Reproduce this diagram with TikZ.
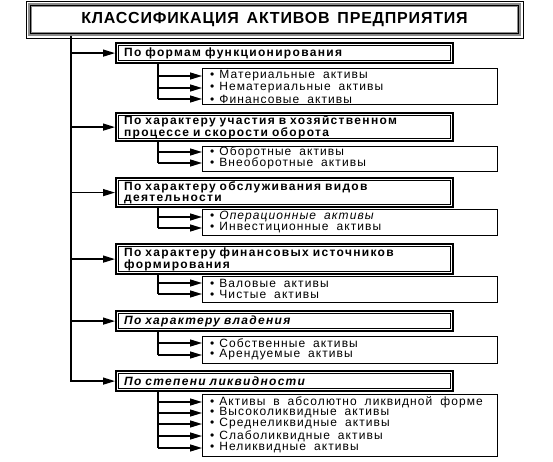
\documentclass[tikz,border=0pt]{standalone}
\usepackage{fontspec}
\setmainfont{Liberation Sans}
\newfontfamily\catfont[LetterSpace=11,WordSpace=1.9]{Liberation Sans}
\newfontfamily\itemfontfam[LetterSpace=9,WordSpace=1.8]{Liberation Sans}
\newfontfamily\titlefont[LetterSpace=5,WordSpace=1.5]{Liberation Sans}
\usetikzlibrary{arrows.meta}
\newcommand\catframe[1]{\draw[line width=0.6pt] ([xshift=3.5pt,yshift=-3.5pt]#1.north west) rectangle ([xshift=-3.5pt,yshift=3.5pt]#1.south east);}
\tikzset{
  titlebox/.style={draw=black!45, line width=4pt, minimum width=489pt, minimum height=29pt, inner sep=0pt,
    font=\titlefont\bfseries\fontsize{16}{18}\selectfont},
  catbox/.style={draw, line width=2.2pt, anchor=north west, text width=321pt, inner xsep=8pt, inner ysep=0pt,
    align=left, font=\catfont\bfseries\fontsize{12}{10.5}\selectfont},
  subbox/.style={draw, line width=1pt, anchor=north west, minimum width=295pt, inner sep=0pt},
  itemtxt/.style={anchor=west, inner sep=0pt, font=\itemfontfam\fontsize{12}{12}\selectfont},
  conn/.style={line width=1.3pt},
  arr/.style={line width=1.3pt, -{Triangle[length=12pt,width=7pt]}}
}
\begin{document}
\begin{tikzpicture}[x=1pt,y=-1pt]
\useasboundingbox (0,0) rectangle (553,462);
% title
\node[titlebox] (title) at (274.5,19.5) {КЛАССИФИКАЦИЯ АКТИВОВ ПРЕДПРИЯТИЯ};
\draw[line width=0.6pt] ([xshift=-2pt,yshift=2pt]title.north west) rectangle ([xshift=2pt,yshift=-2pt]title.south east);
\draw[line width=0.8pt] ([xshift=2.5pt,yshift=-2.5pt]title.north west) rectangle ([xshift=-2.5pt,yshift=2.5pt]title.south east);
% category boxes
\node[catbox, minimum height=20pt] (c1) at (115,42) {По формам функционирования};
\node[catbox, minimum height=28pt] (c2) at (115,112) {По характеру участия в хозяйственном\\процессе и скорости оборота};
\node[catbox, minimum height=29pt] (c3) at (115,177) {По характеру обслуживания видов\\деятельности};
\node[catbox, minimum height=30pt] (c4) at (115,243) {По характеру финансовых источников\\формирования};
\node[catbox, minimum height=20pt] (c5) at (115,310) {\itshape По характеру владения};
\node[catbox, minimum height=20pt] (c6) at (115,370) {\itshape По степени ликвидности};
\foreach \c in {c1,c2,c3,c4,c5,c6} {\catframe{\c}}
% sub boxes
\node[subbox, minimum height=36pt] (s1) at (202,68) {};
\node[subbox, minimum height=25pt] (s2) at (202,146) {};
\node[subbox, minimum height=26pt] (s3) at (202,209) {};
\node[subbox, minimum height=26pt] (s4) at (202,276) {};
\node[subbox, minimum height=27pt] (s5) at (202,336) {};
\node[subbox, minimum height=62pt] (s6) at (202,394) {};
% items
\node[itemtxt] (i11) at (210,76) {•\hspace{5pt}Материальные активы};
\node[itemtxt] (i12) at (210,88) {•\hspace{5pt}Нематериальные активы};
\node[itemtxt] (i13) at (210,99) {•\hspace{5pt}Финансовые активы};
\node[itemtxt] (i21) at (210,152) {•\hspace{5pt}Оборотные активы};
\node[itemtxt] (i22) at (210,163) {•\hspace{5pt}Внеоборотные активы};
\node[itemtxt] (i31) at (210,217) {•\hspace{5pt}\itshape Операционные активы};
\node[itemtxt] (i32) at (210,228) {•\hspace{5pt}Инвестиционные активы};
\node[itemtxt] (i41) at (210,283) {•\hspace{5pt}Валовые активы};
\node[itemtxt] (i42) at (210,294) {•\hspace{5pt}Чистые активы};
\node[itemtxt] (i51) at (210,343) {•\hspace{5pt}Собственные активы};
\node[itemtxt] (i52) at (210,355) {•\hspace{5pt}Арендуемые активы};
\node[itemtxt] (i61) at (210,402) {•\hspace{5pt}Активы в абсолютно ликвидной форме};
\node[itemtxt] (i62) at (210,413) {•\hspace{5pt}Высоколиквидные активы};
\node[itemtxt] (i63) at (210,424) {•\hspace{5pt}Среднеликвидные активы};
\node[itemtxt] (i64) at (210,436) {•\hspace{5pt}Слаболиквидные активы};
\node[itemtxt] (i65) at (210,448) {•\hspace{5pt}Неликвидные активы};
% main trunk
\coordinate (m) at (71,0);
\draw[arr] (m |- title.south) |- (c6.west);
\foreach \c in {c1,c2,c3,c4,c5} {\draw[arr] (m |- \c.west) -- (\c.west);}
% sub branches
\coordinate (b) at (158,0);
\draw[conn] (b |- c1.south) -- (b |- i13);
\foreach \i in {i11,i12,i13} {\draw[arr] (b |- \i) -- (s1.west |- \i);}
\draw[conn] (b |- c2.south) -- (b |- i22);
\foreach \i in {i21,i22} {\draw[arr] (b |- \i) -- (s2.west |- \i);}
\draw[conn] (b |- c3.south) -- (b |- i32);
\foreach \i in {i31,i32} {\draw[arr] (b |- \i) -- (s3.west |- \i);}
\draw[conn] (b |- c4.south) -- (b |- i42);
\foreach \i in {i41,i42} {\draw[arr] (b |- \i) -- (s4.west |- \i);}
\draw[conn] (b |- c5.south) -- (b |- i52);
\foreach \i in {i51,i52} {\draw[arr] (b |- \i) -- (s5.west |- \i);}
\draw[conn] (b |- c6.south) -- (b |- i65);
\foreach \i in {i61,i62,i63,i64,i65} {\draw[arr] (b |- \i) -- (s6.west |- \i);}
\end{tikzpicture}
\end{document}
